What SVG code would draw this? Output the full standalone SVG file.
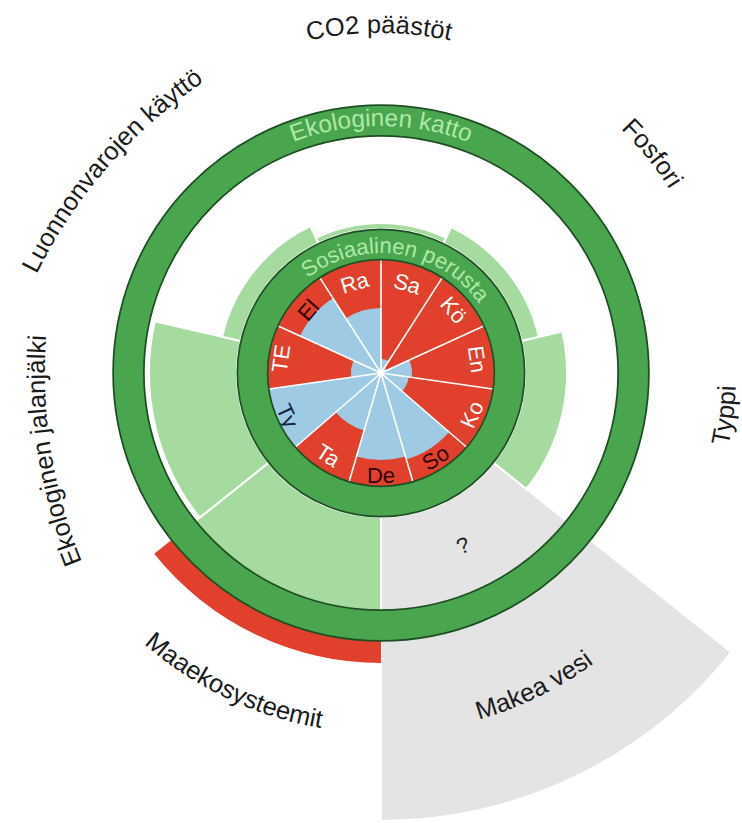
<svg xmlns="http://www.w3.org/2000/svg" xmlns:xlink="http://www.w3.org/1999/xlink" width="742" height="823" viewBox="0 0 742 823">
  <style>
    .eco { fill: #a6db9f; stroke: #ffffff; stroke-width: 2; }
    .grey { fill: #e4e4e4; stroke: #ffffff; stroke-width: 2; }
    .over { fill: #e0402c; }
    .red { fill: #e0402c; }
    .blue { fill: #9ecbe3; }
    .sep { stroke: #ffffff; stroke-width: 1.6; stroke-linecap: round; fill: none; }
    .ringdark { fill: none; stroke: #1d4f22; }
    .ringgreen { fill: none; stroke: #4aa54f; }
    .lbl { font-family: "Liberation Sans", Arial, sans-serif; font-size: 25.5px; fill: #1b1b1b; }
    .ringtxt { font-family: "Liberation Sans", Arial, sans-serif; fill: #aee9a6; }
    .soc { font-family: "Liberation Sans", Arial, sans-serif; font-size: 22px; text-anchor: middle; dominant-baseline: central; fill: #ffffff; }
    .dk { fill: #2a0606; }
    .dkb { fill: #13233f; }
  </style>
  <defs>
    <path id="p-co2" d="M233.7,65.6 A340,340 0 0 1 524.3,65.6"/>
    <path id="p-fos" d="M573.5,90.3 A342,342 0 0 1 697.6,243.5"/>
    <path id="p-luo" d="M27.8,293.1 A500,500 0 0 1 221.7,70.1"/>
    <path id="p-jal" d="M96.2,593.3 A500,500 0 0 1 50,301.4"/>
    <path id="p-maa" d="M108.3,608 A360,360 0 0 0 371.4,732.9"/>
    <path id="p-vesi" d="M394.4,732.8 A360,360 0 0 0 656.3,605"/>
    <path id="p-typ" d="M707.5,512.3 A355,355 0 0 0 731.5,316.8"/>
    <path id="p-katto" d="M191.79,214.23 A247,247 0 0 1 570.21,214.23"/>
    <path id="p-perusta" d="M267.2,334.93 A120,120 0 0 1 500.96,369.86"/>
  </defs>
  <rect width="742" height="823" fill="#ffffff"/>

  <g id="ecological-wedges">
    <g id="makea-vesi">
      <path class="grey" d="M731.26,652.32 A448,448 0 0 1 381,821 L381,517 A144,144 0 0 0 493.58,462.78 Z"/>
      <text x="463" y="553" font-family="Liberation Sans, Arial, sans-serif" font-size="22" fill="#222" text-anchor="middle" transform="rotate(-22 463 545)">?</text>
    </g>
    <g id="maaekosysteemit">
      <path class="over" d="M381,663 A290,290 0 0 1 154.27,553.81 L176.16,536.35 A262,262 0 0 0 381,635 Z"/>
      <path class="eco" d="M381,635 A262,262 0 0 1 176.16,536.35 L268.42,462.78 A144,144 0 0 0 381,517 Z"/>
    </g>
    <g id="ekologinen-jalanjalki">
      <path class="eco" d="M199.62,517.65 A232,232 0 0 1 154.82,321.38 L240.61,340.96 A144,144 0 0 0 268.42,462.78 Z"/>
    </g>
    <g id="luonnonvarojen-kaytto">
      <path class="eco" d="M222.09,336.73 A163,163 0 0 1 310.28,226.14 L318.52,243.26 A144,144 0 0 0 240.61,340.96 Z"/>
    </g>
    <g id="co2-paastot">
      <path class="eco" d="M315.92,237.85 A150,150 0 0 1 446.08,237.85 L443.48,243.26 A144,144 0 0 0 318.52,243.26 Z"/>
    </g>
    <g id="fosfori">
      <path class="eco" d="M451.29,227.04 A162,162 0 0 1 538.94,336.95 L521.39,340.96 A144,144 0 0 0 443.48,243.26 Z"/>
    </g>
    <g id="typpi">
      <path class="eco" d="M562.34,331.61 A186,186 0 0 1 526.42,488.97 L493.58,462.78 A144,144 0 0 0 521.39,340.96 Z"/>
    </g>
  </g>

  <g id="ekologinen-katto">
    <circle class="ringdark" cx="381" cy="373" r="252.5" stroke-width="32.5"/>
    <circle class="ringgreen" cx="381" cy="373" r="252.5" stroke-width="29"/>
    <text class="ringtxt" font-size="24.3"><textPath xlink:href="#p-katto" href="#p-katto" startOffset="50%" text-anchor="middle">Ekologinen katto</textPath></text>
  </g>

  <g id="social-foundation">
    <circle class="red" cx="381" cy="373" r="113"/>
    <g id="achievement">
      <path class="blue" d="M381,373 L381,359 A14,14 0 0 1 388.57,361.22 Z"/>
      <path class="blue" d="M381,373 L384.24,367.95 A6,6 0 0 1 386.46,370.51 Z"/>
      <path class="blue" d="M381,373 L409.2,360.12 A31,31 0 0 1 411.68,377.41 Z"/>
      <path class="blue" d="M381,373 L408.71,376.98 A28,28 0 0 1 402.16,391.34 Z"/>
      <path class="blue" d="M381,373 L449.02,431.94 A90,90 0 0 1 406.36,459.35 Z"/>
      <path class="blue" d="M381,373 L405.51,456.48 A87,87 0 0 1 356.49,456.48 Z"/>
      <path class="blue" d="M381,373 L364.1,430.57 A60,60 0 0 1 335.65,412.29 Z"/>
      <path class="blue" d="M381,373 L295.6,447 A113,113 0 0 1 269.15,389.08 Z"/>
      <path class="blue" d="M381,373 L351.31,377.27 A30,30 0 0 1 353.71,360.54 Z"/>
      <path class="blue" d="M381,373 L300.04,336.03 A89,89 0 0 1 332.88,298.13 Z"/>
      <path class="blue" d="M381,373 L345.86,318.32 A65,65 0 0 1 381,308 Z"/>
    </g>
    <g id="separators">
      <path class="sep" d="M381,373 L381,260 M381,373 L442.09,277.94 M381,373 L483.79,326.06 M381,373 L492.85,389.08 M381,373 L466.4,447 M381,373 L412.84,481.42 M381,373 L349.16,481.42 M381,373 L295.6,447 M381,373 L269.15,389.08 M381,373 L278.21,326.06 M381,373 L319.91,277.94"/>
    </g>
    <g id="social-labels">
      <text class="soc" transform="translate(354.52 282.81) rotate(-16.36)">Ra</text>
      <text class="soc" transform="translate(407.2 283.77) rotate(16.36)">Sa</text>
      <text class="soc" transform="translate(453.55 310.13) rotate(49.09)">Kö</text>
      <text class="soc" transform="translate(477.01 359.2) rotate(81.82)">En</text>
      <text class="soc" transform="translate(471.96 414.54) rotate(-65.45)">Ko</text>
      <text class="soc dk" transform="translate(435.6 457.97) rotate(-32.73)">So</text>
      <text class="soc dk" transform="translate(381 475)">De</text>
      <text class="soc" transform="translate(328.02 455.44) rotate(32.73)">Ta</text>
      <text class="soc dkb" transform="translate(287.31 415.79) rotate(65.45)">Ty</text>
      <text class="soc" transform="translate(281.03 358.63) rotate(-81.82)">TE</text>
      <text class="soc dk" transform="translate(308.45 310.13) rotate(-49.09)">El</text>
    </g>
  </g>

  <g id="sosiaalinen-perusta">
    <circle class="ringdark" cx="381" cy="373" r="128.5" stroke-width="32"/>
    <circle class="ringgreen" cx="381" cy="373" r="128.5" stroke-width="28.6"/>
    <text class="ringtxt" font-size="22"><textPath xlink:href="#p-perusta" href="#p-perusta" startOffset="50%" text-anchor="middle">Sosiaalinen perusta</textPath></text>
  </g>

  <g id="outer-labels">
    <text class="lbl"><textPath xlink:href="#p-co2" href="#p-co2" startOffset="50%" text-anchor="middle">CO2 päästöt</textPath></text>
    <text class="lbl"><textPath xlink:href="#p-fos" href="#p-fos" startOffset="50%" text-anchor="middle">Fosfori</textPath></text>
    <text class="lbl"><textPath xlink:href="#p-typ" href="#p-typ" startOffset="50%" text-anchor="middle">Typpi</textPath></text>
    <text class="lbl"><textPath xlink:href="#p-vesi" href="#p-vesi" startOffset="50%" text-anchor="middle">Makea vesi</textPath></text>
    <text class="lbl"><textPath xlink:href="#p-maa" href="#p-maa" startOffset="50%" text-anchor="middle">Maaekosysteemit</textPath></text>
    <text class="lbl"><textPath xlink:href="#p-jal" href="#p-jal" startOffset="50%" text-anchor="middle">Ekologinen jalanjälki</textPath></text>
    <text class="lbl"><textPath xlink:href="#p-luo" href="#p-luo" startOffset="50%" text-anchor="middle">Luonnonvarojen käyttö</textPath></text>
  </g>
</svg>
